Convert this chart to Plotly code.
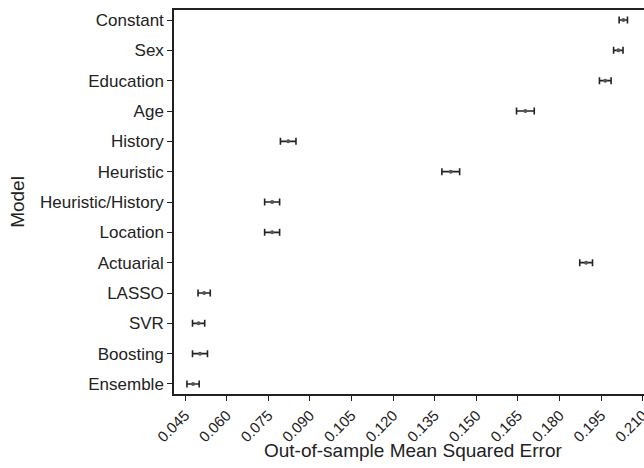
import plotly.graph_objects as go

# Model names, listed bottom to top
models = ["Ensemble", "Boosting", "SVR", "LASSO", "Actuarial", "Location",
          "Heuristic/History", "Heuristic", "History", "Age", "Education",
          "Sex", "Constant"]
# Out-of-sample MSE and half-width of the interval
mse = [0.0479, 0.0504, 0.0499, 0.0519, 0.1896, 0.0764,
       0.0764, 0.1408, 0.0822, 0.1677, 0.1965, 0.2012, 0.2030]
err = [0.0022, 0.0027, 0.0022, 0.0022, 0.0023, 0.0027,
       0.0027, 0.0032, 0.0028, 0.0032, 0.0021, 0.0017, 0.0015]
x_ticks = [0.045, 0.060, 0.075, 0.090, 0.105, 0.120, 0.135, 0.150,
           0.165, 0.180, 0.195, 0.210]

ink = "#222222"
font = "Liberation Sans, Arial, sans-serif"

fig = go.Figure(go.Scatter(
    x=mse,
    y=list(range(len(models))),
    mode="markers",
    marker=dict(size=4, color="#555555"),
    error_x=dict(type="data", array=err, visible=True,
                 color=ink, thickness=1.6, width=3.5),
    showlegend=False,
))

fig.update_layout(
    width=644, height=468,
    margin=dict(l=174, r=0, t=10, b=74),
    paper_bgcolor="white", plot_bgcolor="white",
    font=dict(family=font, color=ink, size=17),
    xaxis=dict(
        range=[0.04103, 0.21046],
        tickvals=x_ticks,
        ticktext=[f"{v:.3f}" for v in x_ticks],
        tickangle=-45,
        ticklabeloverflow="allow",
        ticks="outside", ticklen=5, tickwidth=1.2, tickcolor=ink,
        showline=True, linecolor=ink, linewidth=1.5, mirror=True,
        showgrid=False, zeroline=False,
        tickfont=dict(size=15),
        automargin=False,
    ),
    yaxis=dict(
        range=[-0.33, 12.33],
        tickvals=list(range(len(models))),
        ticktext=models,
        ticks="outside", ticklen=5, tickwidth=1.2, tickcolor=ink,
        showline=True, linecolor=ink, linewidth=1.5,
        showgrid=False, zeroline=False,
        tickfont=dict(size=17),
        title=dict(text="Model", font=dict(size=19), standoff=10),
        automargin=False,
    ),
)

# x-axis title placed just under the rotated tick labels
fig.add_annotation(
    text="Out-of-sample Mean Squared Error",
    xref="paper", yref="paper", x=0.5085, y=-0.1484,
    xanchor="center", yanchor="middle", showarrow=False,
    font=dict(size=19, color=ink, family=font),
)

fig.write_html("out.html")
